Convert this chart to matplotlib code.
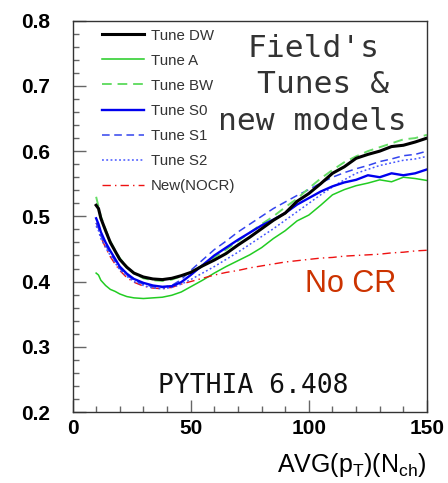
import matplotlib
matplotlib.use("Agg")
import matplotlib.pyplot as plt
from matplotlib.ticker import MultipleLocator

plt.rcParams['font.family'] = ['Liberation Sans', 'DejaVu Sans']
plt.rcParams['mathtext.fontset'] = 'custom'
plt.rcParams['mathtext.rm'] = 'Liberation Sans'
plt.rcParams['mathtext.it'] = 'Liberation Sans'

nch = [10, 11, 12, 14, 16, 18, 20, 23, 26, 30, 34, 38, 42, 46, 50, 55, 60, 65, 70,
       75, 80, 85, 90, 95, 100, 105, 110, 115, 120, 125, 130, 135, 140, 145, 150]

tune_dw = [0.517, 0.512, 0.497, 0.478, 0.460, 0.447, 0.434, 0.422, 0.413, 0.407, 0.404,
           0.403, 0.405, 0.409, 0.414, 0.424, 0.433, 0.443, 0.456, 0.468, 0.481, 0.494,
           0.505, 0.523, 0.535, 0.550, 0.566, 0.576, 0.589, 0.595, 0.600, 0.607, 0.609,
           0.614, 0.620]
tune_a = [0.413, 0.410, 0.402, 0.394, 0.388, 0.385, 0.381, 0.377, 0.375, 0.374, 0.375,
          0.376, 0.379, 0.384, 0.392, 0.402, 0.413, 0.423, 0.432, 0.441, 0.452, 0.466,
          0.478, 0.493, 0.502, 0.517, 0.533, 0.541, 0.547, 0.551, 0.556, 0.553, 0.560,
          0.558, 0.555]
tune_bw = [0.530, 0.515, 0.500, 0.480, 0.462, 0.448, 0.436, 0.422, 0.413, 0.405, 0.402,
           0.401, 0.403, 0.408, 0.414, 0.425, 0.437, 0.449, 0.462, 0.475, 0.488, 0.500,
           0.514, 0.527, 0.543, 0.558, 0.571, 0.583, 0.592, 0.600, 0.606, 0.612, 0.618,
           0.620, 0.625]
tune_s0 = [0.497, 0.488, 0.476, 0.460, 0.447, 0.435, 0.423, 0.412, 0.404, 0.398, 0.394,
           0.392, 0.393, 0.399, 0.410, 0.425, 0.440, 0.452, 0.464, 0.475, 0.486, 0.495,
           0.505, 0.518, 0.528, 0.538, 0.546, 0.552, 0.556, 0.563, 0.560, 0.566, 0.563,
           0.566, 0.572]
tune_s1 = [0.490, 0.482, 0.470, 0.456, 0.443, 0.432, 0.420, 0.410, 0.402, 0.396, 0.392,
           0.391, 0.394, 0.403, 0.417, 0.433, 0.449, 0.462, 0.476, 0.488, 0.500, 0.512,
           0.522, 0.532, 0.541, 0.551, 0.560, 0.567, 0.573, 0.578, 0.584, 0.588, 0.593,
           0.595, 0.600]
tune_s2 = [0.485, 0.478, 0.466, 0.452, 0.440, 0.429, 0.418, 0.408, 0.400, 0.394, 0.390,
           0.389, 0.391, 0.396, 0.403, 0.413, 0.423, 0.434, 0.445, 0.457, 0.469, 0.481,
           0.494, 0.507, 0.520, 0.533, 0.545, 0.556, 0.566, 0.572, 0.578, 0.582, 0.586,
           0.588, 0.592]
new_nocr = [0.490, 0.482, 0.468, 0.452, 0.438, 0.427, 0.417, 0.406, 0.399, 0.393, 0.390,
            0.389, 0.391, 0.396, 0.400, 0.405, 0.410, 0.414, 0.417, 0.421, 0.424, 0.427,
            0.430, 0.432, 0.434, 0.436, 0.437, 0.439, 0.440, 0.441, 0.442, 0.444, 0.445,
            0.447, 0.448]

W, H = 448, 483
fig = plt.figure(figsize=(W / 100, H / 100), dpi=100)
ax = fig.add_axes([72.5 / W, 1 - 412 / H, (427 - 72.5) / W, (412 - 20.7) / H])

ax.plot(nch, tune_a, color='#22cc22', lw=1.1, label='Tune A')
ax.plot(nch, new_nocr, color='#ee1111', lw=1.0, dashes=(6, 3, 1, 3), label='New(NOCR)')
ax.plot(nch, tune_s2, color='#4455ff', lw=1.1, dashes=(1.2, 1.6), label='Tune S2')
ax.plot(nch, tune_s1, color='#3344ee', lw=1.1, dashes=(5, 3), label='Tune S1')
ax.plot(nch, tune_bw, color='#66dd66', lw=1.4, dashes=(5, 3), label='Tune BW')
ax.plot(nch, tune_s0, color='#0000ee', lw=1.7, label='Tune S0')
ax.plot(nch, tune_dw, color='#000000', lw=2.2, label='Tune DW')

ax.set_xlim(0, 150)
ax.set_ylim(0.2, 0.8)
ax.xaxis.set_major_locator(MultipleLocator(50))
ax.xaxis.set_minor_locator(MultipleLocator(10))
ax.yaxis.set_major_locator(MultipleLocator(0.1))
ax.yaxis.set_minor_locator(MultipleLocator(0.02))
ax.yaxis.set_major_formatter(matplotlib.ticker.FormatStrFormatter('%.1f'))
ax.tick_params(which='both', direction='in', color='#666666', width=1.0,
               top=False, right=False)
ax.tick_params(which='major', length=9)
ax.tick_params(which='minor', length=4.5)
ax.tick_params(axis='y', which='major', pad=16)
ax.tick_params(axis='x', which='major', pad=5)
for lab in ax.get_xticklabels() + ax.get_yticklabels():
    lab.set_fontsize(15)
    lab.set_fontweight('bold')
for s in ax.spines.values():
    s.set_color('#333333')
    s.set_linewidth(1.0)

ax.set_xlabel(r'AVG(p$_{\mathrm{T}}$)(N$_{\mathrm{ch}}$)', fontsize=18, ha='right', va='baseline')
ax.xaxis.set_label_coords(1.0, -(472 - 412) / (412 - 20.7))

handles, labels = ax.get_legend_handles_labels()
order = ['Tune DW', 'Tune A', 'Tune BW', 'Tune S0', 'Tune S1', 'Tune S2', 'New(NOCR)']
hmap = dict(zip(labels, handles))
leg = ax.legend([hmap[k] for k in order], order, loc='upper left',
                bbox_to_anchor=(101.7 / W, 1 - 28.5 / H), bbox_transform=fig.transFigure,
                frameon=False, fontsize=10.8, borderpad=0, borderaxespad=0,
                handlelength=2.8, handletextpad=0.5, labelspacing=0.74,
                labelcolor='#333333')

mono = ['DejaVu Sans Mono']
fig.text(314 / W, 1 - 57 / H, "Field's", fontsize=22.5, family=mono, color='#333333',
         ha='center', va='baseline')
fig.text(323 / W, 1 - 93 / H, "Tunes &", fontsize=22.5, family=mono, color='#333333',
         ha='center', va='baseline')
fig.text(312 / W, 1 - 130 / H, "new models", fontsize=22.5, family=mono, color='#333333',
         ha='center', va='baseline')
fig.text(305 / W, 1 - 292 / H, "No CR", fontsize=22, color='#cc3300',
         ha='left', va='baseline')
fig.text(253 / W, 1 - 392.7 / H, "PYTHIA 6.408", fontsize=19, family=mono, color='#111111',
         ha='center', va='baseline')

fig.savefig('out.png', dpi=100)
